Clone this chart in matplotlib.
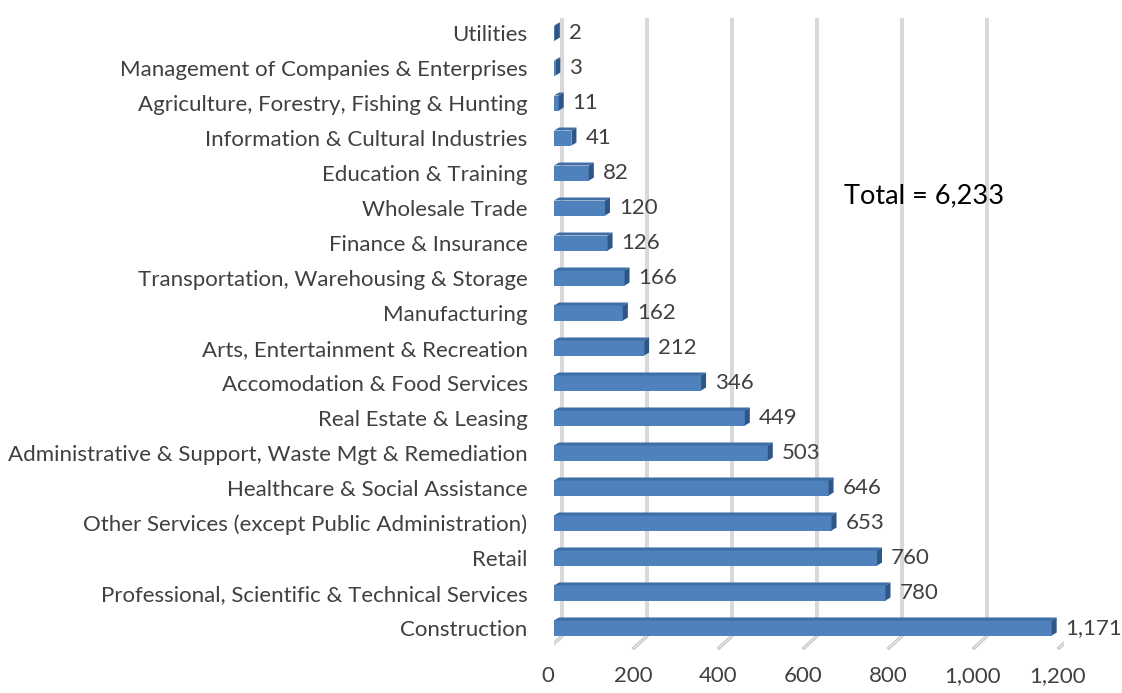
import matplotlib
matplotlib.use("Agg")
import matplotlib.pyplot as plt
from matplotlib.patches import Polygon
from matplotlib.transforms import blended_transform_factory

plt.rcParams['font.family'] = ['Lato', 'DejaVu Sans']

# industries, bottom to top as drawn
categories = [
    "Construction",
    "Professional, Scientific & Technical Services",
    "Retail",
    "Other Services (except Public Administration)",
    "Healthcare & Social Assistance",
    "Administrative & Support, Waste Mgt & Remediation",
    "Real Estate & Leasing",
    "Accomodation & Food Services",
    "Arts, Entertainment & Recreation",
    "Manufacturing",
    "Transportation, Warehousing & Storage",
    "Finance & Insurance",
    "Wholesale Trade",
    "Education & Training",
    "Information & Cultural Industries",
    "Agriculture, Forestry, Fishing & Hunting",
    "Management of Companies & Enterprises",
    "Utilities",
]
counts = [1171, 780, 760, 653, 646, 503, 449, 346, 212, 162, 166, 126, 120, 82, 41, 11, 3, 2]
xticks = [0, 200, 400, 600, 800, 1000, 1200]
xtick_labels = ["0", "200", "400", "600", "800", "1,000", "1,200"]
total_label = "Total = 6,233"

W, H, DPI = 1122, 693, 100
fig = plt.figure(figsize=(W / DPI, H / DPI), dpi=DPI)
# axes box in pixels: left 554, right 1064, bottom 650, top 18
ax = fig.add_axes([554 / W, (H - 650) / H, 510 / W, 632 / H])
xmin, xmax = 0, 1200
ymin, ymax = -0.629, 17.43
ax.set_xlim(xmin, xmax)
ax.set_ylim(ymin, ymax)
for s in ax.spines.values():
    s.set_visible(False)

# pixel -> data unit helpers
px_x = (xmax - xmin) / 510
px_y = (ymax - ymin) / 632

front = '#4F81BD'
topc = '#3F6DA6'
sidec = '#2E5687'
grid_edge = '#C4C4C4'
grid_mid = '#EDEDED'

# back-wall gridlines (shifted right by depth), with diagonal floor ticks
gdx = 8 * px_x
for xv in xticks:
    xs = [xv + gdx - 13 * px_x, xv + gdx, xv + gdx]
    ys = [ymin + 2 * px_y, ymin + 14 * px_y, ymax]
    ax.plot(xs, ys, color=grid_edge, lw=2.4, zorder=1, solid_joinstyle='miter')
    ax.plot(xs, ys, color=grid_mid, lw=0.8, zorder=1, solid_joinstyle='miter')

bh = 0.43
dx = 5 * px_x
dy = 3 * px_y
for i, v in enumerate(counts):
    y0 = i - bh / 2
    y1 = i + bh / 2
    ax.barh(i, v, height=bh, color=front, edgecolor='none', zorder=3)
    ax.add_patch(Polygon([(0, y1), (dx, y1 + dy), (v + dx, y1 + dy), (v, y1)],
                         closed=True, facecolor=topc, edgecolor='none', zorder=3))
    ax.add_patch(Polygon([(v, y0), (v, y1), (v + dx, y1 + dy), (v + dx, y0 + dy)],
                         closed=True, facecolor=sidec, edgecolor='none', zorder=3))
    lbl = "{:,}".format(v)
    ax.text(v + 14 * px_x, i, lbl, ha='left', va='center', fontsize=16, color='#404040', zorder=4)

ax.set_yticks(range(len(categories)))
ax.set_yticklabels(categories, fontsize=16, color='#404040')
ax.tick_params(axis='y', length=0, pad=19)
ax.set_xticks([])

tr = blended_transform_factory(ax.transData, fig.transFigure)
for xv, lab in zip(xticks, xtick_labels):
    ax.text(xv - 6 * px_x, (H - 676) / H, lab, transform=tr, ha='center', va='center',
            fontsize=16, color='#404040')

fig.text(924 / W, (H - 196) / H, total_label, ha='center', va='center', fontsize=19.5, color='#000000')

fig.savefig("out.png", dpi=DPI)
